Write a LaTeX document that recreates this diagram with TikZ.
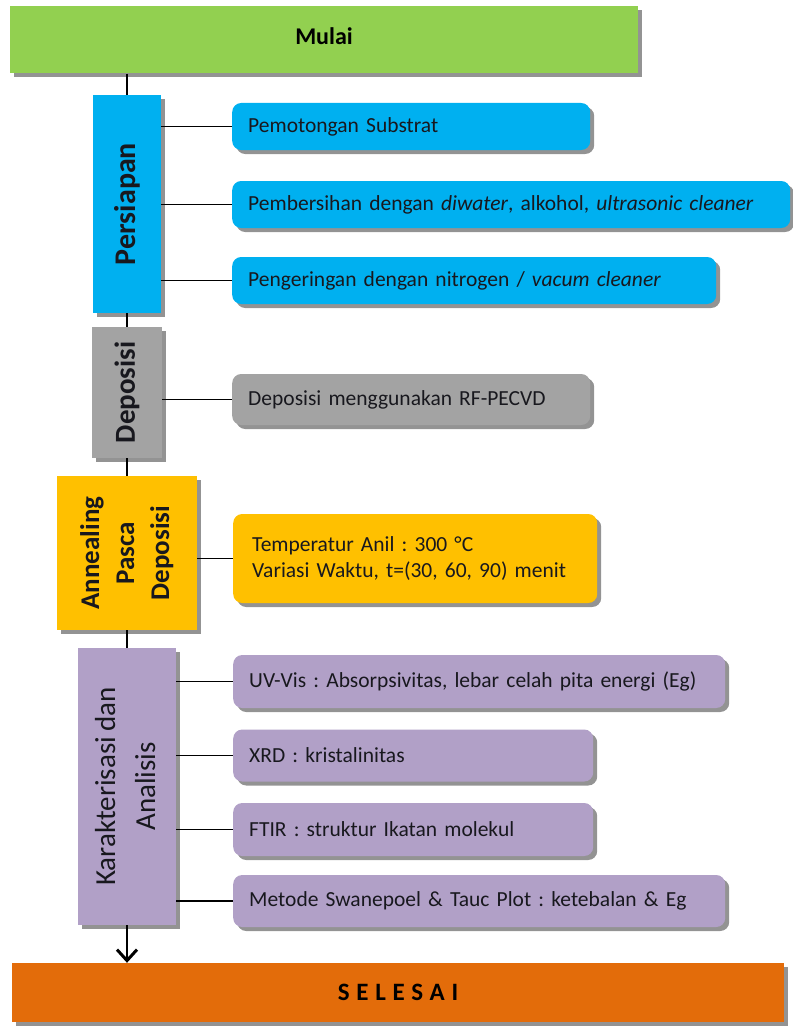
\documentclass[tikz,border=0pt]{standalone}
\usepackage{fontspec}
\setmainfont{Carlito}[WordSpace=0.8]
\usepackage{graphicx}
\usetikzlibrary{shadows,arrows.meta}
\frenchspacing
\definecolor{cgreen}{HTML}{92D050}
\definecolor{cblue}{HTML}{00B0F0}
\definecolor{cgray}{HTML}{A3A3A3}
\definecolor{corange}{HTML}{FFC000}
\definecolor{cpurple}{HTML}{B1A0C7}
\definecolor{cend}{HTML}{E36C0A}
\definecolor{txt}{HTML}{18181E}
\tikzset{
  shadowed/.style={drop shadow={shadow xshift=4pt, shadow yshift=-4pt, fill=black!50, opacity=0.85}},
  bigbox/.style={shadowed, inner sep=0pt, text=black},
  sidebox/.style={shadowed, inner sep=0pt, text=txt},
  subbox/.style={shadowed, rounded corners=9pt, anchor=west, align=left, inner xsep=16pt, inner ysep=0pt,
     text=txt, font=\fontsize{21.5}{26}\selectfont},
  trunk/.style={line width=2.6pt, black},
  link/.style={line width=1.3pt, black}
}
\begin{document}
\begin{tikzpicture}[x=1pt,y=-1pt]
\useasboundingbox (0,0) rectangle (792,1030);

% main boxes
\node[bigbox, fill=cgreen, minimum width=628pt, minimum height=67pt, font=\fontsize{24}{28}\selectfont\bfseries] (mulai) at (324,40) {\raisebox{7pt}{Mulai}};
\node[bigbox, fill=cend, minimum width=772pt, minimum height=59pt, font=\fontsize{25}{28}\selectfont\bfseries] (selesai) at (398,992.5) {\addfontfeature{LetterSpace=27}SELESAI};

% side boxes
\node[sidebox, fill=cblue, minimum width=68pt, minimum height=218pt, font=\fontsize{30}{36}\selectfont\bfseries] (persiapan) at (127,204) {\rotatebox{90}{Persiapan}};
\node[sidebox, fill=cgray, minimum width=70pt, minimum height=131pt, font=\fontsize{29}{36}\selectfont\bfseries] (deposisi) at (127,392.5) {\rotatebox{90}{Deposisi}};
\node[sidebox, fill=corange, minimum width=140pt, minimum height=154pt, font=\fontsize{27}{35}\selectfont\bfseries] (anneal) at (127,553) {\rotatebox{90}{\begin{tabular}{@{}c@{}}Annealing\\Pasca\\Deposisi\end{tabular}}};
\node[sidebox, fill=cpurple, minimum width=98pt, minimum height=277pt, font=\fontsize{29}{40}\selectfont] (kar) at (127,786.5) {\rotatebox{90}{\begin{tabular}{@{}c@{}}Karakterisasi dan\\Analisis\end{tabular}}};

% sub boxes
\node[subbox, fill=cblue, text width=326pt, minimum height=47pt] (p1) at (232,126.5) {Pemotongan Substrat};
\node[subbox, fill=cblue, text width=526pt, minimum height=47pt] (p2) at (232,204.5) {Pembersihan dengan \emph{diwater}, alkohol, \emph{ultrasonic cleaner}};
\node[subbox, fill=cblue, text width=452pt, minimum height=47pt] (p3) at (232,280.5) {Pengeringan dengan nitrogen / \emph{vacum cleaner}};
\node[subbox, fill=cgray, text width=326pt, minimum height=51pt] (d1) at (232,399.5) {Deposisi menggunakan RF-PECVD};
\node[subbox, fill=corange, text width=326pt, minimum height=89pt, inner xsep=19pt] (a1) at (233,558.5) {Temperatur Anil : 300 °C\\Variasi Waktu, t=(30, 60, 90) menit};
\node[subbox, fill=cpurple, text width=460pt, minimum height=53pt] (k1) at (233,681.5) {UV-Vis : Absorpsivitas, lebar celah pita energi (Eg)};
\node[subbox, fill=cpurple, text width=328pt, minimum height=52pt] (k2) at (233,755.5) {XRD : kristalinitas};
\node[subbox, fill=cpurple, text width=328pt, minimum height=53pt] (k3) at (233,829.5) {FTIR : struktur Ikatan molekul};
\node[subbox, fill=cpurple, text width=460pt, minimum height=52pt] (k4) at (233,901) {Metode Swanepoel \& Tauc Plot : ketebalan \& Eg};

% trunk
\draw[trunk] (mulai.south -| persiapan.north) -- (persiapan.north);
\draw[trunk] (persiapan.south) -- (deposisi.north);
\draw[trunk] (deposisi.south) -- (anneal.north);
\draw[trunk] (anneal.south) -- (kar.north);
\draw[trunk, -{Straight Barb[length=11pt,width=20pt,line width=3pt]}] (kar.south) -- (kar.south |- selesai.north);

% branches
\draw[link] (p1.west -| persiapan.east) -- (p1.west);
\draw[link] (p2.west -| persiapan.east) -- (p2.west);
\draw[link] (p3.west -| persiapan.east) -- (p3.west);
\draw[link] (d1.west -| deposisi.east) -- (d1.west);
\draw[link] (a1.west -| anneal.east) -- (a1.west);
\draw[link] (k1.west -| kar.east) -- (k1.west);
\draw[link] (k2.west -| kar.east) -- (k2.west);
\draw[link] (k3.west -| kar.east) -- (k3.west);
\draw[link] (k4.west -| kar.east) -- (k4.west);
\end{tikzpicture}
\end{document}
